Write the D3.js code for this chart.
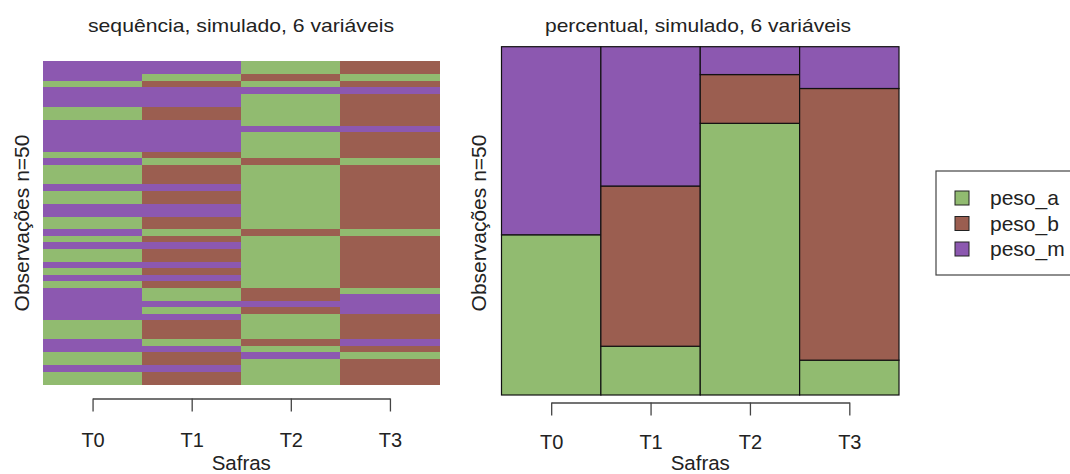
<!DOCTYPE html>
<html lang="pt">
<head>
<meta charset="utf-8">
<title>sequência / percentual</title>
<script src="https://cdn.jsdelivr.net/npm/d3@7"></script>
<style>
  body { margin: 0; background: #fff; }
  text { font-family: "Liberation Sans", Arial, sans-serif; fill: #222; }
</style>
</head>
<body>
<svg width="1070" height="474"></svg>
<script>
// estados e safras
var states = ["peso_a", "peso_b", "peso_m"];
var safras = ["T0", "T1", "T2", "T3"];
var colors = ["#91bb70", "#9b5e50", "#8c58b0"];

// sequencias lidas de cima para baixo (a = peso_a, b = peso_b, m = peso_m)
var seqT0 = ["m","m","m","a","m","m","m","a","a","m","m","m","m","m","a","m","a","a","a","m",
             "a","a","m","m","a","a","m","a","m","a","a","m","a","m","a","m","m","m","m","m",
             "a","a","a","m","m","a","a","m","a","a"];
var seqT1 = ["m","m","a","b","m","m","m","b","b","m","m","m","m","m","b","a","b","b","b","m",
             "b","b","m","m","b","b","a","b","m","b","b","m","b","m","b","a","a","m","a","m",
             "b","b","b","a","m","b","b","m","b","b"];
var seqT2 = ["a","a","b","a","m","a","a","a","a","a","m","a","a","a","a","b","a","a","a","a",
             "a","a","a","a","a","a","b","a","a","a","a","a","a","a","a","b","b","m","b","a",
             "a","a","a","b","a","m","a","a","a","a"];
var seqT3 = ["b","b","a","b","m","b","b","b","b","b","m","b","b","b","b","a","b","b","b","b",
             "b","b","b","b","b","b","a","b","b","b","b","b","b","b","b","a","m","m","m","b",
             "b","b","b","m","b","a","b","b","b","b"];

var seqs = [seqT0, seqT1, seqT2, seqT3];
var code = { a: "peso_a", b: "peso_b", m: "peso_m" };
var n = seqT0.length;

var svg = d3.select("svg");
var color = d3.scaleOrdinal().domain(states).range(colors);

// ---------- painel esquerdo: sequencias ----------
var x1 = d3.scaleBand().domain(safras).range([43, 439.5]);
var y1 = d3.scaleBand().domain(d3.range(n)).range([61.3, 384.7]);

var cells = [];
seqs.forEach(function(s, j) {
  s.forEach(function(v, i) { cells.push({ t: safras[j], row: i, st: code[v] }); });
});

svg.append("g")
  .attr("shape-rendering", "crispEdges")
  .selectAll("rect")
  .data(cells)
  .enter().append("rect")
  .attr("x", function(d) { return x1(d.t); })
  .attr("y", function(d) { return y1(d.row); })
  .attr("width", x1.bandwidth() + 0.5)
  .attr("height", y1.bandwidth() + 0.5)
  .attr("fill", function(d) { return color(d.st); });

// ---------- painel direito: percentuais ----------
var x2 = d3.scaleBand().domain(safras).range([501.5, 899]);
var y2 = d3.scaleLinear().domain([0, 1]).range([395, 46.7]);

var stacks = [];
seqs.forEach(function(s, j) {
  var acc = 0;
  states.forEach(function(st) {
    var p = s.filter(function(v) { return code[v] === st; }).length / n;
    stacks.push({ t: safras[j], st: st, y0: acc, y1: acc + p });
    acc += p;
  });
});

svg.append("g").selectAll("rect")
  .data(stacks)
  .enter().append("rect")
  .attr("x", function(d) { return x2(d.t); })
  .attr("y", function(d) { return y2(d.y1); })
  .attr("width", x2.bandwidth())
  .attr("height", function(d) { return y2(d.y0) - y2(d.y1); })
  .attr("fill", function(d) { return color(d.st); })
  .attr("stroke", "#111")
  .attr("stroke-width", 1.2);

// ---------- eixos ----------
function drawAxis(xs, yLine, pad) {
  var centers = safras.map(function(t) { return xs(t) + xs.bandwidth() / 2; });
  var ax = d3.axisBottom(d3.scalePoint().domain(safras).range([centers[0], centers[3]]))
    .tickSize(13).tickSizeOuter(0).tickPadding(pad);
  var g = svg.append("g").attr("transform", "translate(0," + yLine + ")").call(ax);
  g.select(".domain").attr("stroke", "#444").attr("stroke-width", 1.3);
  g.selectAll(".tick line").attr("stroke", "#444").attr("stroke-width", 1.3);
  g.selectAll(".tick text").style("font-size", "20px")
    .style("font-family", "'Liberation Sans', Arial, sans-serif").attr("fill", "#222");
  svg.append("text")
    .attr("x", (centers[0] + centers[3]) / 2)
    .attr("y", 470)
    .attr("text-anchor", "middle")
    .style("font-size", "20.5px")
    .text("Safras");
}
drawAxis(x1, 398.5, 21);
drawAxis(x2, 402.5, 19);

// rotulos do eixo y
[[29, 223], [486, 223]].forEach(function(p) {
  svg.append("text")
    .attr("transform", "translate(" + p[0] + "," + p[1] + ") rotate(-90)")
    .attr("text-anchor", "middle")
    .style("font-size", "21px")
    .text("Observações n=50");
});

// titulos
[[241, "sequência, simulado, 6 variáveis"], [698, "percentual, simulado, 6 variáveis"]].forEach(function(p) {
  svg.append("text")
    .attr("x", p[0])
    .attr("y", 31.5)
    .attr("text-anchor", "middle")
    .attr("textLength", 306)
    .attr("lengthAdjust", "spacingAndGlyphs")
    .style("font-size", "19px")
    .text(p[1]);
});

// ---------- legenda ----------
var leg = svg.append("g");
leg.append("rect")
  .attr("x", 936).attr("y", 171)
  .attr("width", 150).attr("height", 104)
  .attr("fill", "none").attr("stroke", "#444").attr("stroke-width", 1.2);

var ly = d3.scalePoint().domain(states).range([198, 249]);
leg.selectAll(".sw")
  .data(states)
  .enter().append("rect")
  .attr("class", "sw")
  .attr("x", 955)
  .attr("y", function(d) { return ly(d) - 7; })
  .attr("width", 14).attr("height", 14)
  .attr("fill", function(d) { return color(d); })
  .attr("stroke", "#222").attr("stroke-width", 1);

leg.selectAll(".lb")
  .data(states)
  .enter().append("text")
  .attr("class", "lb")
  .attr("x", 990)
  .attr("y", function(d) { return ly(d) + 7; })
  .style("font-size", "21px")
  .text(function(d) { return d; });
</script>
</body>
</html>
